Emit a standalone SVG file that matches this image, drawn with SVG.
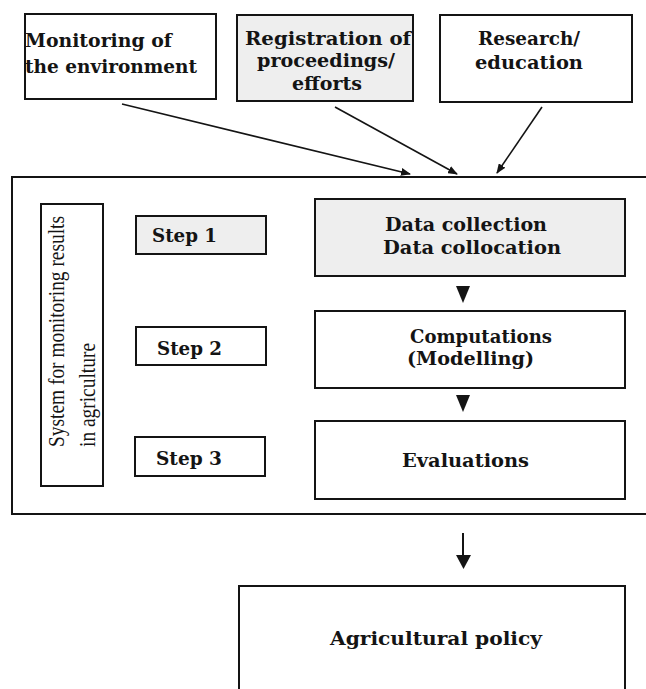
<svg xmlns="http://www.w3.org/2000/svg" width="646" height="689" viewBox="0 0 646 689">
<style>
.box{fill:#ffffff;stroke:#141414;stroke-width:2}
.shade{fill:#eeeeee;stroke:#141414;stroke-width:2}
.t{font-family:"DejaVu Serif","Liberation Serif",serif;font-weight:bold;font-size:19px;fill:#141414}
.v{font-family:"Liberation Serif","Times New Roman",serif;font-size:24px;fill:#141414}
.ln{stroke:#141414;stroke-width:1.6;fill:none}
.head{fill:#141414;stroke:none}
</style>
<defs>
<marker id="arr" viewBox="0 0 10 8" refX="9" refY="4" markerWidth="10" markerHeight="8" markerUnits="userSpaceOnUse" orient="auto">
<path d="M0,0 L10,4 L0,8 Z" class="head"/>
</marker>
</defs>
<rect width="646" height="689" fill="#ffffff"/>

<g id="monitoring">
<rect class="box" x="25" y="14" width="191" height="85"/>
<text class="t" x="25" y="47" textLength="147" lengthAdjust="spacingAndGlyphs">Monitoring of</text>
<text class="t" x="25" y="73" textLength="172" lengthAdjust="spacingAndGlyphs">the environment</text>
</g>

<g id="registration">
<rect class="shade" x="237" y="15" width="176" height="86"/>
<text class="t" x="245" y="45" textLength="166" lengthAdjust="spacingAndGlyphs">Registration of</text>
<text class="t" x="257" y="67" textLength="138" lengthAdjust="spacingAndGlyphs">proceedings/</text>
<text class="t" x="292" y="90" textLength="70" lengthAdjust="spacingAndGlyphs">efforts</text>
</g>

<g id="research">
<rect class="box" x="440" y="15" width="192" height="87"/>
<text class="t" x="478" y="45" textLength="102" lengthAdjust="spacingAndGlyphs">Research/</text>
<text class="t" x="475" y="69" textLength="108" lengthAdjust="spacingAndGlyphs">education</text>
</g>

<g id="system">
<path class="ln" style="stroke-width:2" d="M646,177 H12 V514 H646"/>
</g>

<g id="system-label">
<rect class="box" x="41" y="204" width="62" height="282"/>
<text class="v" transform="translate(64,447) rotate(-90)" textLength="231" lengthAdjust="spacingAndGlyphs">System for monitoring results</text>
<text class="v" transform="translate(95,447) rotate(-90)" textLength="104" lengthAdjust="spacingAndGlyphs">in agriculture</text>
</g>

<g id="step1">
<rect class="shade" x="136" y="216" width="130" height="38"/>
<text class="t" x="152" y="242" textLength="65" lengthAdjust="spacingAndGlyphs">Step 1</text>
</g>
<g id="step2">
<rect class="box" x="136" y="327" width="130" height="38"/>
<text class="t" x="157" y="355" textLength="65" lengthAdjust="spacingAndGlyphs">Step 2</text>
</g>
<g id="step3">
<rect class="box" x="135" y="437" width="130" height="39"/>
<text class="t" x="156" y="465" textLength="66" lengthAdjust="spacingAndGlyphs">Step 3</text>
</g>

<g id="data">
<rect class="shade" x="315" y="199" width="310" height="77"/>
<text class="t" x="385" y="231" textLength="162" lengthAdjust="spacingAndGlyphs">Data collection</text>
<text class="t" x="383" y="254" textLength="178" lengthAdjust="spacingAndGlyphs">Data collocation</text>
</g>

<g id="computations">
<rect class="box" x="315" y="311" width="310" height="77"/>
<text class="t" x="410" y="343" textLength="142" lengthAdjust="spacingAndGlyphs">Computations</text>
<text class="t" x="407" y="365" textLength="127" lengthAdjust="spacingAndGlyphs">(Modelling)</text>
</g>

<g id="evaluations">
<rect class="box" x="315" y="421" width="310" height="78"/>
<text class="t" x="402" y="467" textLength="127" lengthAdjust="spacingAndGlyphs">Evaluations</text>
</g>

<g id="policy">
<path class="ln" style="stroke-width:2" d="M239,700 V586 H625 V700"/>
<text class="t" x="330" y="645" textLength="212" lengthAdjust="spacingAndGlyphs">Agricultural policy</text>
</g>

<g id="connectors">
<line class="ln" x1="122" y1="104" x2="410" y2="174" marker-end="url(#arr)"/>
<line class="ln" x1="335" y1="107" x2="457" y2="174" marker-end="url(#arr)"/>
<line class="ln" x1="542" y1="107" x2="497" y2="173" marker-end="url(#arr)"/>
<path class="head" d="M456,286 L470,286 L463,303 Z"/>
<path class="head" d="M456,395 L470,395 L463,412 Z"/>
<line class="ln" style="stroke-width:2" x1="463" y1="533" x2="463" y2="556"/>
<path class="head" d="M456,555 L471,555 L463.5,569 Z"/>
</g>
</svg>
